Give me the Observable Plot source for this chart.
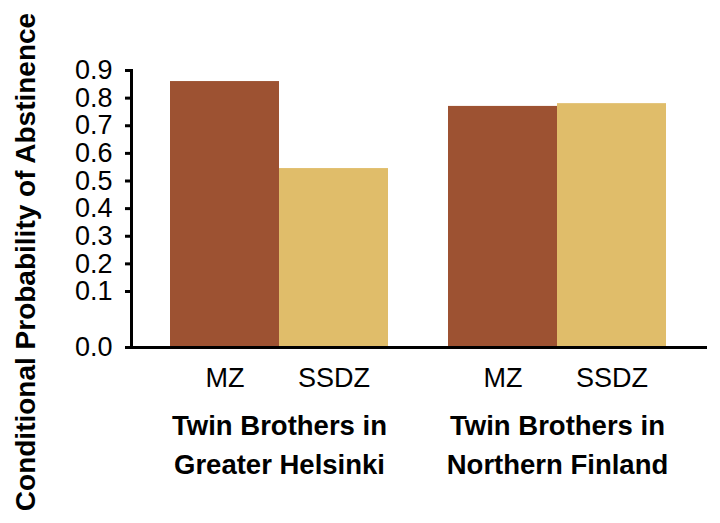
<!DOCTYPE html>
<html>
<head>
<meta charset="utf-8">
<script src="https://cdn.jsdelivr.net/npm/d3@7"></script>
<script src="https://cdn.jsdelivr.net/npm/@observablehq/plot@0.6"></script>
<style>
  html, body { margin: 0; padding: 0; background: #fff; }
  #chart svg { display: block; }
</style>
</head>
<body>
<div id="chart"></div>
<script>
// ---- Data ----
const groups = ["Twin Brothers in\nGreater Helsinki", "Twin Brothers in\nNorthern Finland"];
const twinTypes = ["MZ", "SSDZ"];
const greaterHelsinki = [0.86, 0.545];
const northernFinland = [0.77, 0.78];
const yTicks = [0, 0.1, 0.2, 0.3, 0.4, 0.5, 0.6, 0.7, 0.8, 0.9];
const yTitle = "Conditional Probability of Abstinence";
const barColors = ["#9d5232", "#e0bd6a"];

const table = [];
[greaterHelsinki, northernFinland].forEach((vals, gi) => {
  vals.forEach((v, ti) => table.push({group: groups[gi], type: twinTypes[ti], value: v}));
});

const chart = Plot.plot({
  width: 720,
  height: 523,
  marginLeft: 131,
  marginRight: 15,
  marginTop: 70,
  marginBottom: 176,
  style: {fontFamily: "'Liberation Sans', Arial, sans-serif", fontSize: "27px", color: "#000", background: "#fff"},
  fx: {domain: groups, range: [131, 705], paddingInner: -0.0647, paddingOuter: 0, axis: null, label: null},
  x: {domain: twinTypes, paddingInner: 0, paddingOuter: 0.3455, axis: null, label: null},
  y: {type: "linear", domain: [0, 0.1, 0.9], range: [347, 291, 70], axis: null, label: null},
  color: {domain: twinTypes, range: barColors},
  marks: [
    Plot.barY(table, {fx: "group", x: "type", y: "value", fill: "type"}),
    Plot.frame({facet: "super", anchor: "bottom", stroke: "#000", strokeWidth: 3}),
    Plot.frame({facet: "super", anchor: "left", stroke: "#000", strokeWidth: 3}),
    Plot.axisY(yTicks, {anchor: "left", tickSize: 6, tickPadding: 13, strokeWidth: 3,
      tickFormat: d => d.toFixed(1), fontSize: 27, label: null}),
    Plot.axisX({anchor: "bottom", tickSize: 0, tickPadding: 20, fontSize: 27, label: null}),
    Plot.text(groups, {fx: d => d, text: d => d, frameAnchor: "bottom", dy: 60, lineAnchor: "top",
      fontWeight: "bold", fontSize: 27.5, lineHeight: 1.42}),
    Plot.text([yTitle], {facet: "super", frameAnchor: "left", textAnchor: "middle", lineAnchor: "middle",
      rotate: -90, dx: -105, dy: 53, fontWeight: "bold", fontSize: 28, text: d => d})
  ]
});
document.getElementById("chart").appendChild(chart);
</script>
</body>
</html>
